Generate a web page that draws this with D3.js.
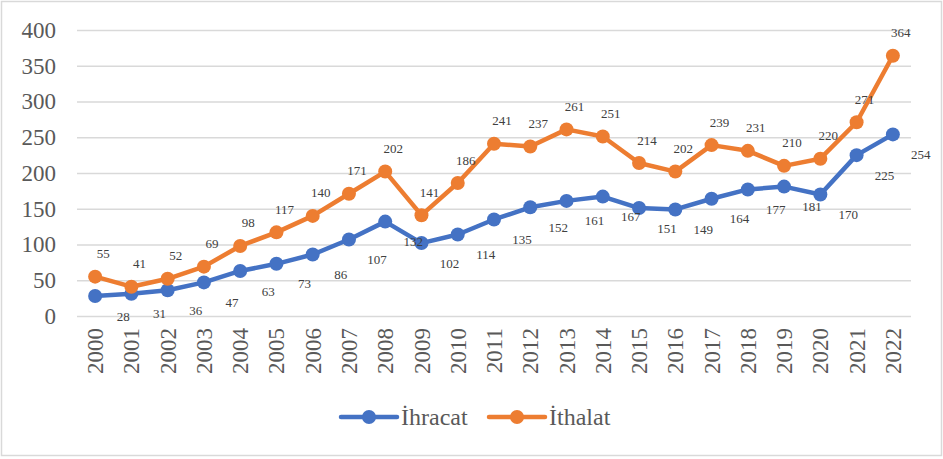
<!DOCTYPE html>
<html>
<head>
<meta charset="utf-8">
<script src="https://cdn.jsdelivr.net/npm/d3@7"></script>
<style>
  body { margin: 0; background: #fff; }
</style>
</head>
<body>
<div id="chart"></div>
<script>
// chart data
const years = ["2000", "2001", "2002", "2003", "2004", "2005", "2006", "2007", "2008", "2009", "2010",
    "2011", "2012", "2013", "2014", "2015", "2016", "2017", "2018", "2019", "2020", "2021", "2022"];
const ihracat = [28, 31, 36, 47, 63, 73, 86, 107, 132, 102, 114, 135, 152, 161, 167, 151, 149, 164, 177, 181, 170, 225, 254];
const ithalat = [55, 41, 52, 69, 98, 117, 140, 171, 202, 141, 186, 241, 237, 261, 251, 214, 202, 239, 231, 210, 220, 271, 364];
const yTicks = [0, 50, 100, 150, 200, 250, 300, 350, 400];
const seriesNames = ["İhracat", "İthalat"];

const svgWidth = 943;
const svgHeight = 459;
const fontFamily = "'Liberation Serif', 'DejaVu Serif', 'Times New Roman', serif";

const margin = { top: 30, right: 32, bottom: 143, left: 77 };
const chartWidth = svgWidth - margin.left - margin.right;
const chartHeight = svgHeight - margin.top - margin.bottom;

const blue = "#4472C4";
const orange = "#ED7D31";

const svg = d3.select("#chart").append("svg")
    .attr("width", svgWidth)
    .attr("height", svgHeight)
    .attr("font-family", fontFamily);

// outer frame
svg.append("rect")
    .attr("x", 1.5).attr("y", 1.5)
    .attr("width", svgWidth - 3).attr("height", svgHeight - 5)
    .attr("fill", "#fff")
    .attr("stroke", "#d9d9d9")
    .attr("stroke-width", 1.5);

const chartG = svg.append("g")
    .attr("transform", `translate(${margin.left}, ${margin.top})`);

const x = d3.scaleBand()
    .domain(years)
    .range([0, chartWidth]);

const y = d3.scaleLinear()
    .domain([0, 400])
    .range([chartHeight, 0]);

// gridlines + y labels
const yAxis = d3.axisLeft(y)
    .tickValues(yTicks)
    .tickSize(-chartWidth)
    .tickPadding(21);

const yAxisG = chartG.append("g").call(yAxis)
    .attr("font-family", fontFamily);
yAxisG.select(".domain").remove();
yAxisG.selectAll("line")
    .attr("stroke", "#d9d9d9")
    .attr("stroke-width", 1.5);
yAxisG.selectAll("text")
    .attr("fill", "#595959")
    .style("font-family", fontFamily)
    .style("font-size", "23px");

// x labels (rotated)
const xAxis = d3.axisBottom(x).tickSize(0);
const xAxisG = chartG.append("g")
    .attr("transform", `translate(0, ${chartHeight})`)
    .call(xAxis)
    .attr("font-family", fontFamily);
xAxisG.select(".domain").remove();
xAxisG.selectAll("text")
    .attr("fill", "#595959")
    .style("font-family", fontFamily)
    .style("font-size", "23px")
    .attr("text-anchor", "end")
    .attr("transform", "rotate(-90)")
    .attr("x", -12)
    .attr("y", 0)
    .attr("dy", "0.35em");

const line = d3.line()
    .x((d, i) => x(years[i]) + x.bandwidth() / 2)
    .y(d => y(d));

function drawSeries(values, color) {
    const g = chartG.append("g");
    g.append("path")
        .datum(values)
        .attr("fill", "none")
        .attr("stroke", color)
        .attr("stroke-width", 4.5)
        .attr("stroke-linejoin", "round")
        .attr("d", line);

    g.selectAll("circle")
        .data(values)
        .enter()
        .append("circle")
        .attr("cx", (d, i) => x(years[i]) + x.bandwidth() / 2)
        .attr("cy", d => y(d))
        .attr("r", 7)
        .attr("fill", color);
}

drawSeries(ihracat, blue);
drawSeries(ithalat, orange);

// data labels
chartG.append("g").selectAll("text")
    .data(ihracat)
    .enter()
    .append("text")
    .attr("x", (d, i) => x(years[i]) + x.bandwidth() / 2 + 28)
    .attr("y", d => y(d) + 20)
    .attr("dy", "0.35em")
    .attr("text-anchor", "middle")
    .attr("fill", "#404040")
    .style("font-family", fontFamily)
    .style("font-size", "13px")
    .text(d => d);

chartG.append("g").selectAll("text")
    .data(ithalat)
    .enter()
    .append("text")
    .attr("x", (d, i) => x(years[i]) + x.bandwidth() / 2 + 8)
    .attr("y", d => y(d) - 23)
    .attr("dy", "0.35em")
    .attr("text-anchor", "middle")
    .attr("fill", "#404040")
    .style("font-family", fontFamily)
    .style("font-size", "13px")
    .text(d => d);

// legend
const legend = svg.append("g")
    .attr("transform", `translate(341, 417)`);

const legendItems = legend.selectAll("g")
    .data(seriesNames)
    .enter()
    .append("g")
    .attr("transform", (d, i) => `translate(${i * 148}, 0)`);

legendItems.append("line")
    .attr("x1", 0).attr("x2", 56)
    .attr("y1", 0).attr("y2", 0)
    .attr("stroke", (d, i) => i === 0 ? blue : orange)
    .attr("stroke-width", 4.5)
    .attr("stroke-linecap", "round");

legendItems.append("circle")
    .attr("cx", 28).attr("cy", 0)
    .attr("r", 7)
    .attr("fill", (d, i) => i === 0 ? blue : orange);

legendItems.append("text")
    .attr("x", 60)
    .attr("y", 0)
    .attr("dy", "0.35em")
    .attr("fill", "#595959")
    .style("font-family", fontFamily)
    .style("font-size", "24px")
    .text(d => d);
</script>
</body>
</html>
